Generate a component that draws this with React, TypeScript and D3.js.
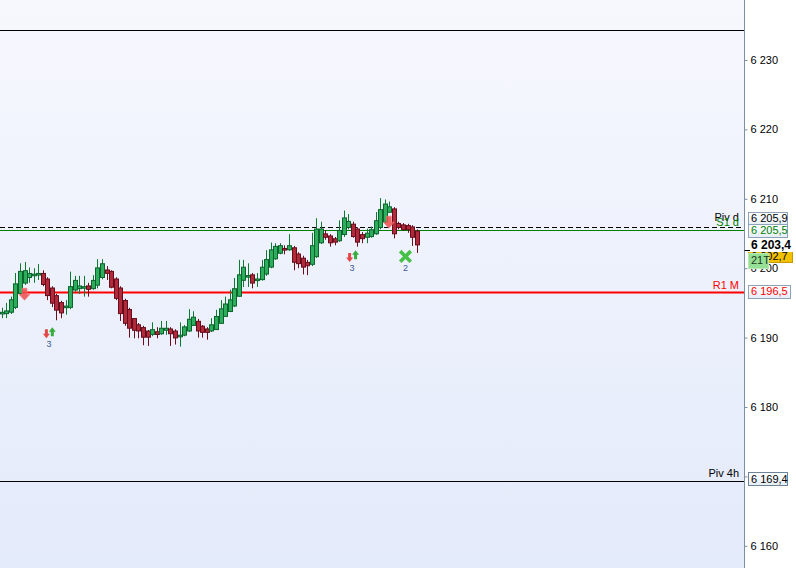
import React, { useEffect, useRef } from 'react';
import * as d3 from 'd3';

// candle data, one entry per bar (oldest first)
const opens = [
  6193.6, 6193.5, 6193.7, 6194.4, 6196.4, 6197.9, 6198.7, 6199.0, 6199.1, 6199.2,
  6198.4, 6197.1, 6196.0, 6195.0, 6194.4, 6194.4, 6196.9, 6197.1, 6197.2, 6197.4,
  6197.1, 6197.6, 6198.7, 6199.7, 6199.5, 6198.4, 6197.1, 6195.3, 6194.0, 6192.7,
  6191.8, 6191.4, 6190.9, 6190.5, 6190.8, 6190.6, 6191.1, 6191.2, 6190.9, 6190.2,
  6190.4, 6191.0, 6191.8, 6192.3, 6191.6, 6191.2, 6191.0, 6191.2, 6192.1, 6193.1,
  6193.8, 6194.6, 6196.0, 6198.3, 6198.8, 6199.0, 6198.3, 6198.4, 6199.2, 6200.2,
  6201.4, 6202.2, 6202.8, 6202.7, 6202.9, 6202.0, 6201.4, 6200.8, 6200.6, 6201.7,
  6203.7, 6204.9, 6204.6, 6204.2, 6204.0, 6204.9, 6205.9, 6206.3, 6205.6, 6204.8,
  6204.5, 6204.6, 6205.0, 6205.9, 6206.7, 6208.1, 6208.5, 6206.4, 6206.2, 6206.1,
  6205.9, 6205.3,
];
const highs = [
  6194.3, 6195.0, 6195.9, 6199.3, 6200.7, 6200.9, 6200.1, 6200.0, 6200.6, 6199.7,
  6198.7, 6197.4, 6196.3, 6195.3, 6195.4, 6199.5, 6198.9, 6198.9, 6198.9, 6197.9,
  6199.0, 6201.3, 6201.3, 6200.3, 6199.7, 6198.7, 6197.4, 6195.6, 6194.3, 6192.8,
  6192.1, 6191.7, 6191.1, 6192.2, 6191.5, 6192.4, 6192.4, 6191.5, 6191.2, 6192.2,
  6191.8, 6194.1, 6193.8, 6192.7, 6191.8, 6191.5, 6192.8, 6194.0, 6195.4, 6195.9,
  6196.9, 6198.6, 6201.2, 6201.2, 6200.7, 6199.3, 6199.3, 6201.2, 6202.6, 6203.7,
  6203.6, 6203.6, 6203.3, 6204.9, 6203.2, 6202.3, 6201.8, 6201.2, 6205.1, 6207.2,
  6206.7, 6205.5, 6204.9, 6204.5, 6206.9, 6208.3, 6207.8, 6206.7, 6205.9, 6205.2,
  6205.7, 6206.0, 6208.1, 6210.1, 6209.9, 6209.6, 6208.8, 6206.7, 6206.5, 6206.4,
  6206.2, 6205.6,
];
const lows = [
  6192.8, 6192.8, 6193.4, 6194.1, 6196.1, 6197.6, 6197.9, 6197.9, 6198.3, 6197.4,
  6195.4, 6194.4, 6192.5, 6192.8, 6193.3, 6194.1, 6196.6, 6196.3, 6195.9, 6195.9,
  6196.9, 6197.1, 6198.4, 6198.3, 6197.1, 6195.4, 6192.4, 6191.7, 6190.0, 6189.9,
  6189.9, 6188.9, 6188.8, 6190.2, 6189.9, 6190.4, 6190.4, 6188.8, 6189.0, 6188.7,
  6190.2, 6190.8, 6191.7, 6190.0, 6190.0, 6189.7, 6190.8, 6191.1, 6192.0, 6193.0,
  6193.7, 6194.4, 6195.9, 6197.3, 6197.3, 6197.1, 6197.3, 6198.2, 6198.9, 6200.0,
  6201.2, 6202.0, 6202.0, 6202.5, 6199.7, 6200.0, 6199.1, 6199.0, 6200.3, 6201.5,
  6203.5, 6204.1, 6203.1, 6203.3, 6203.8, 6204.5, 6205.6, 6204.4, 6203.1, 6203.6,
  6203.6, 6204.4, 6204.8, 6205.6, 6206.5, 6208.0, 6204.3, 6205.6, 6205.4, 6205.1,
  6203.2, 6202.2,
];
const closes = [
  6193.6, 6193.8, 6195.4, 6197.7, 6199.5, 6199.6, 6199.2, 6199.1, 6199.2, 6197.7,
  6196.1, 6195.0, 6194.0, 6193.6, 6194.5, 6197.3, 6198.2, 6197.4, 6197.3, 6197.0,
  6198.2, 6200.0, 6200.6, 6199.3, 6197.3, 6195.7, 6193.5, 6192.1, 6191.4, 6191.1,
  6191.0, 6190.1, 6190.1, 6191.1, 6190.5, 6191.3, 6191.3, 6190.6, 6190.0, 6190.3,
  6191.5, 6192.6, 6192.9, 6191.0, 6190.8, 6190.8, 6191.8, 6193.0, 6194.1, 6194.8,
  6195.4, 6197.0, 6199.0, 6200.1, 6198.9, 6197.9, 6198.4, 6200.1, 6201.2, 6202.6,
  6203.1, 6203.2, 6202.7, 6203.2, 6200.9, 6200.7, 6200.2, 6200.4, 6203.2, 6205.6,
  6205.6, 6204.5, 6203.7, 6203.8, 6205.4, 6207.2, 6206.7, 6204.6, 6203.8, 6204.3,
  6205.0, 6205.5, 6206.8, 6208.4, 6209.2, 6208.8, 6205.0, 6205.9, 6205.6, 6205.6,
  6204.5, 6203.4,
];

const yTicks = [6160, 6170, 6180, 6190, 6200, 6210, 6220, 6230];

// horizontal levels
const levelPrices = [6234.3, 6205.9, 6205.5, 6196.5, 6169.4];
const levelNames = ['', 'Piv d', 'S1 d', 'R1 M', 'Piv 4h'];
const levelColors = ['#000000', '#000000', '#008000', '#ff0000', '#000000'];

// signal markers (bar position, price)
const bigDownAt = [5.0, 84.9];
const bigDownPrice = [6197.1, 6207.5];
const smallDownAt = [9.8, 76.3];
const smallDownPrice = [6191.2, 6202.2];
const smallUpAt = [11.1, 77.6];
const smallUpPrice = [6190.2, 6201.3];
const crossAt = [88.55];
const crossPrice = [6201.7];
const countAt = [10.4, 76.8, 88.55];
const countPrice = [6189.1, 6200.0, 6200.0];
const countText = ['3', '3', '2'];

const lastPrice = 6203.4;
const bidPrice = 6202.7;
const timerText = '21T';

const W = 796;
const H = 568;
const AXIS_X = 744.5;
const FONT = "'Liberation Sans', Arial, sans-serif";

const App = () => {
  const svgRef = useRef(null);

  useEffect(() => {
    const root = d3.select(svgRef.current);
    root.selectAll('*').remove();

    const loc = d3.formatLocale({ decimal: ',', thousands: ' ', grouping: [3], currency: ['', ''] });
    const fmtTick = loc.format(',');
    const fmtPrice = loc.format(',.1f');

    const n = opens.length;
    const x = d3.scaleLinear().domain([0, n - 1]).range([1.7, 1.7 + 4.56 * (n - 1)]);
    const y = d3.scaleLinear().domain([6160, 6230]).range([545.8, 60]);

    const defs = root.append('defs');
    const grad = defs.append('linearGradient').attr('id', 'bg').attr('x1', 0).attr('y1', 0).attr('x2', 0).attr('y2', 1);
    grad.append('stop').attr('offset', '0%').attr('stop-color', '#f7f8fe');
    grad.append('stop').attr('offset', '100%').attr('stop-color', '#e3eafa');
    const bgrad = defs.append('linearGradient').attr('id', 'box').attr('x1', 0).attr('y1', 0).attr('x2', 0).attr('y2', 1);
    bgrad.append('stop').attr('offset', '0%').attr('stop-color', '#ffffff');
    bgrad.append('stop').attr('offset', '100%').attr('stop-color', '#e6edf7');

    root.append('rect').attr('width', AXIS_X).attr('height', H).attr('fill', 'url(#bg)');
    root.append('rect').attr('x', AXIS_X).attr('width', W - AXIS_X).attr('height', H).attr('fill', '#ffffff');

    // levels
    const lv = root.append('g');
    levelPrices.forEach((p, i) => {
      lv.append('line')
        .attr('x1', 0)
        .attr('x2', AXIS_X)
        .attr('y1', Math.round(y(p)) + 0.5)
        .attr('y2', Math.round(y(p)) + 0.5)
        .attr('stroke', levelColors[i])
        .attr('stroke-width', levelNames[i] === 'R1 M' ? 2 : 1)
        .attr('stroke-dasharray', levelNames[i] === 'Piv d' ? '5,3' : null);
    });

    // candles
    const candles = d3.range(n).map((i) => ({ i, o: opens[i], h: highs[i], l: lows[i], c: closes[i] }));
    const g = root.append('g');
    const up = (d) => d.c >= d.o;
    g.selectAll('line.wick')
      .data(candles)
      .enter()
      .append('line')
      .attr('x1', (d) => Math.round(x(d.i)) + 0.5)
      .attr('x2', (d) => Math.round(x(d.i)) + 0.5)
      .attr('y1', (d) => y(d.h))
      .attr('y2', (d) => y(d.l))
      .attr('stroke', (d) => (up(d) ? '#0d7a32' : '#6e0c1c'))
      .attr('stroke-width', 1);
    g.selectAll('rect.body')
      .data(candles)
      .enter()
      .append('rect')
      .attr('x', (d) => Math.round(x(d.i)) - 1.5)
      .attr('width', 4)
      .attr('y', (d) => y(Math.max(d.o, d.c)) - 0.3)
      .attr('height', (d) => Math.max(1, Math.abs(y(d.o) - y(d.c))) + 0.6)
      .attr('fill', (d) => (up(d) ? '#2cae5c' : '#b02a3c'))
      .attr('stroke', (d) => (up(d) ? '#0c632b' : '#660c1a'))
      .attr('stroke-width', 1);

    // level names
    levelNames.forEach((name, i) => {
      if (!name) return;
      const yy = y(levelPrices[i]);
      const off = name === 'S1 d' ? -4 : name === 'Piv d' ? -6 : -3.5;
      lv.append('text')
        .attr('x', 739)
        .attr('y', yy + off)
        .attr('text-anchor', 'end')
        .attr('font-family', FONT)
        .attr('font-size', 11)
        .attr('fill', levelColors[i])
        .text(name);
    });

    // markers
    const mk = root.append('g');
    const bigDown = 'M-2.5,0H2.5V6H5.5L0,12L-5.5,6H-2.5Z';
    const smallDown = 'M-1.5,0H1.5V4.5H3.5L0,9L-3.5,4.5H-1.5Z';
    const smallUp = 'M-1.5,0H1.5V-4.5H3.5L0,-9L-3.5,-4.5H-1.5Z';
    bigDownAt.forEach((a, i) => {
      mk.append('path')
        .attr('d', bigDown)
        .attr('transform', `translate(${x(a)},${y(bigDownPrice[i])})`)
        .attr('fill', '#f04c4c')
        .attr('fill-opacity', 0.85)
        .attr('stroke', '#f47a7a')
        .attr('stroke-width', 0.6);
    });
    smallDownAt.forEach((a, i) => {
      mk.append('path')
        .attr('d', smallDown)
        .attr('transform', `translate(${x(a)},${y(smallDownPrice[i])})`)
        .attr('fill', '#e24848');
    });
    smallUpAt.forEach((a, i) => {
      mk.append('path')
        .attr('d', smallUp)
        .attr('transform', `translate(${x(a)},${y(smallUpPrice[i])})`)
        .attr('fill', '#36ad3e');
    });
    crossAt.forEach((a, i) => {
      mk.append('path')
        .attr('d', 'M-4,-4L4,4M4,-4L-4,4')
        .attr('transform', `translate(${x(a)},${y(crossPrice[i])})`)
        .attr('stroke', '#46c046')
        .attr('stroke-width', 3.6)
        .attr('stroke-linecap', 'square');
    });
    countAt.forEach((a, i) => {
      mk.append('text')
        .attr('x', x(a))
        .attr('y', y(countPrice[i]))
        .attr('dy', '0.35em')
        .attr('text-anchor', 'middle')
        .attr('font-family', FONT)
        .attr('font-size', 9)
        .attr('fill', '#3e5a94')
        .text(countText[i]);
    });

    // right axis
    root.append('line')
      .attr('x1', AXIS_X)
      .attr('x2', AXIS_X)
      .attr('y1', 0)
      .attr('y2', H)
      .attr('stroke', '#7d8fa3');
    const ax = root.append('g')
      .attr('transform', `translate(${AXIS_X},0)`)
      .call(d3.axisRight(y).tickValues(yTicks).tickSize(3).tickPadding(3).tickFormat(fmtTick));
    ax.select('.domain').remove();
    ax.selectAll('line').attr('stroke', '#7d8fa3');
    ax.selectAll('text').attr('font-family', FONT).attr('font-size', 11).attr('fill', '#000');

    // price boxes
    const box = (price, dy, color, fill, stroke, label, w, bold) => {
      const cy = y(price) + dy;
      root.append('rect')
        .attr('x', 748.5)
        .attr('y', Math.round(cy - 6.5) + 0.5)
        .attr('width', w)
        .attr('height', 13)
        .attr('fill', fill)
        .attr('stroke', stroke);
      root.append('text')
        .attr('x', 751)
        .attr('y', cy)
        .attr('dy', '0.36em')
        .attr('font-family', FONT)
        .attr('font-size', bold ? 12 : 11)
        .attr('font-weight', bold ? 'bold' : 'normal')
        .attr('fill', color)
        .text(label);
    };
    box(levelPrices[1], -9, '#000000', 'url(#box)', '#8ea2ba', fmtPrice(levelPrices[1]), 39, false);
    box(levelPrices[2], 0, '#008000', 'url(#box)', '#8ea2ba', fmtPrice(levelPrices[2]), 39, false);
    box(bidPrice, 6.5, '#000000', '#f2c200', '#c89a00', fmtPrice(bidPrice), 44, false);
    box(lastPrice, 0, '#000000', '#ffffff', '#ffffff', fmtPrice(lastPrice), 46, true);
    root.append('line')
      .attr('x1', AXIS_X)
      .attr('x2', 750)
      .attr('y1', Math.round(y(lastPrice)) + 5.5)
      .attr('y2', Math.round(y(lastPrice)) + 5.5)
      .attr('stroke', '#000');
    // timer tag
    const ty = y(bidPrice) + 11;
    root.append('rect')
      .attr('x', 748.5)
      .attr('y', Math.round(ty - 7.5) + 0.5)
      .attr('width', 20)
      .attr('height', 15)
      .attr('fill', '#96e096')
      .attr('stroke', '#b8e8b8');
    root.append('text')
      .attr('x', 751)
      .attr('y', ty)
      .attr('dy', '0.36em')
      .attr('font-family', FONT)
      .attr('font-size', 11)
      .attr('fill', '#1a3a1a')
      .text(timerText);
    box(levelPrices[3], -1, '#ff0000', 'url(#box)', '#8ea2ba', fmtPrice(levelPrices[3]), 42, false);
    box(levelPrices[4], -2, '#000000', 'url(#box)', '#6f8398', fmtPrice(levelPrices[4]), 39, false);
  }, []);

  return (
    <svg
      ref={svgRef}
      width={W}
      height={H}
      style={{ position: 'absolute', left: 0, top: 0, display: 'block' }}
    ></svg>
  );
};

export default App;
